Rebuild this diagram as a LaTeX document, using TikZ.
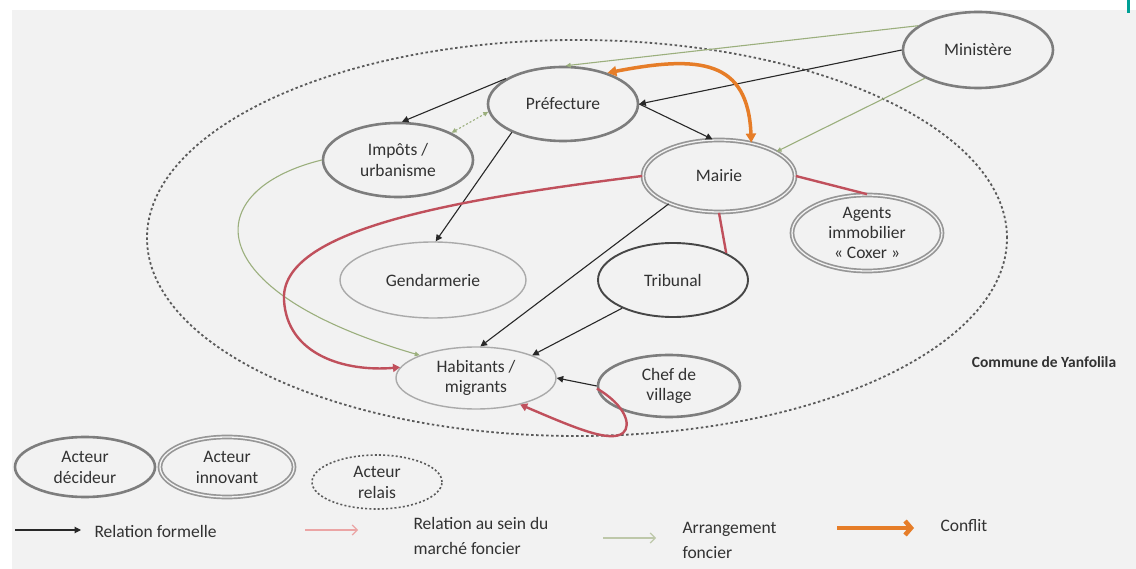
\documentclass[tikz,border=0pt]{standalone}
\usepackage{fontspec}
\setmainfont{Carlito}
\usetikzlibrary{shapes.geometric,arrows.meta}
\definecolor{bg}{RGB}{242,242,242}
\definecolor{txt}{RGB}{50,50,50}
\definecolor{decgray}{RGB}{125,125,125}
\definecolor{inngray}{RGB}{150,150,150}
\definecolor{dotgray}{RGB}{90,90,90}
\definecolor{thingray}{RGB}{170,170,170}
\definecolor{tribgray}{RGB}{70,70,70}
\definecolor{formalc}{RGB}{40,40,40}
\definecolor{greenarr}{RGB}{155,175,125}
\definecolor{greenleg}{RGB}{190,200,170}
\definecolor{redrel}{RGB}{192,80,92}
\definecolor{redleg}{RGB}{235,165,165}
\definecolor{orangec}{RGB}{230,125,40}
\definecolor{tealmark}{RGB}{0,160,150}
\begin{document}
\begin{tikzpicture}[x=1pt,y=-1pt,
  every node/.style={font=\fontsize{17.5}{21}\selectfont, text=txt, align=center},
  actor/.style={ellipse, inner sep=0pt, fill=bg},
  decid/.style={actor, draw=decgray, line width=2.6pt},
  inn/.style={actor, draw=inngray, double=bg, double distance=1.3pt, line width=1.7pt},
  relais/.style={actor, draw=dotgray, line width=1.6pt, dash pattern=on 2pt off 2.2pt},
  thinact/.style={actor, draw=thingray, line width=1.4pt},
  tribact/.style={actor, draw=tribgray, line width=1.9pt},
  formal/.style={draw=formalc, line width=1.1pt, -{Triangle[length=6.5pt,width=6.5pt]}},
  arrang/.style={draw=greenarr, line width=1.1pt, -{Triangle[length=5pt,width=4.5pt]}},
  market/.style={draw=redrel, line width=2.4pt},
  marketarr/.style={market, -{Triangle[length=7pt,width=8pt]}},
  conflict/.style={draw=orangec, line width=3.5pt, {Triangle[length=9pt,width=10pt]}-{Triangle[length=9pt,width=10pt]}},
  legtext/.style={anchor=west, align=left, font=\fontsize{17.5}{25}\selectfont}
]
\useasboundingbox (0,0) rectangle (1136,569);
\fill[white] (0,0) rectangle (1136,569);
\fill[bg] (12,10) rectangle (1136,569);
\fill[tealmark] (1127,0) rectangle (1130,13);

% commune boundary
\node[ellipse, draw=dotgray, line width=1.8pt, dash pattern=on 2.5pt off 2.5pt, minimum width=860pt, minimum height=396pt, inner sep=0pt] (commune) at (577,238) {};
\node[font=\bfseries\fontsize{15.5}{18}\selectfont] (communelbl) at (1044,362) {Commune de Yanfolila};

% actors
\node[decid, minimum width=150pt, minimum height=76pt] (min) at (978,50) {Ministère};
\node[decid, minimum width=150pt, minimum height=74pt] (pref) at (563,104) {Préfecture};
\node[inn, minimum width=152pt, minimum height=72pt] (mairie) at (719,176) {Mairie};
\node[decid, minimum width=150pt, minimum height=74pt] (impots) at (398,160) {Impôts /\\urbanisme};
\node[thinact, minimum width=186pt, minimum height=76pt] (gend) at (433,280) {Gendarmerie};
\node[tribact, minimum width=150pt, minimum height=74pt] (trib) at (673,280) {Tribunal};
\node[inn, minimum width=150pt, minimum height=76pt, font=\fontsize{17.5}{20}\selectfont] (agents) at (867,233) {Agents\\immobilier\\« Coxer »};
\node[thinact, minimum width=160pt, minimum height=62pt, font=\fontsize{17.5}{20}\selectfont] (hab) at (476,378) {Habitants /\\migrants};
\node[decid, minimum width=142pt, minimum height=62pt, font=\fontsize{17.5}{20}\selectfont] (chef) at (669,386) {Chef de\\village};

% formal relations
\draw[formal] (min.west) -- (pref.east);
\draw[formal] (pref.east) -- (mairie.100);
\draw[formal] (pref.156) -- (impots.84);
\draw[formal] (pref.209) -- (gend.86);
\draw[formal] (mairie.209) -- (hab.82);
\draw[formal] (trib.209) -- (hab.22);
\draw[formal] (chef.west) -- (hab.east);

% land arrangements
\draw[arrang] (min.158) -- (pref.86);
\draw[arrang] (min.208) -- (mairie.23);
\draw[arrang, dash pattern=on 2pt off 2pt, {Triangle[length=5pt,width=4.5pt]}-{Triangle[length=5pt,width=4.5pt]}] (impots.27) -- (pref.186);
\draw[arrang] (impots.west) .. controls (200,190) and (195,290) .. (hab.158);

% land market relations
\draw[marketarr] (mairie.west) .. controls (450,200) and (280,230) .. (284,300)
   .. controls (287,355) and (345,372) .. (hab.172);
\draw[market] (mairie.east) -- (agents.north);
\draw[market] (mairie.south) -- (trib.27);
\draw[marketarr] (chef.182) .. controls (625,405) and (632,425) .. (623,433)
   .. controls (610,443) and (575,428) .. (hab.-31);

% conflict
\draw[conflict] (pref.35) .. controls (700,55) and (748,60) .. (mairie.46);

% legend
\node[decid, minimum width=140pt, minimum height=60pt] (legdec) at (85,467) {Acteur\\décideur};
\node[inn, minimum width=134pt, minimum height=60pt] (leginn) at (227,467) {Acteur\\innovant};
\node[relais, minimum width=130pt, minimum height=54pt] (legrel) at (377,482) {Acteur\\relais};

\coordinate (f1) at (15,530); \coordinate (f2) at (81,530);
\draw[formal] (f1) -- (f2);
\node[legtext] (lf) at (91,531) {Relation formelle};

\coordinate (r1) at (305,530); \coordinate (r2) at (358,530);
\draw[draw=redleg, line width=1.2pt, -{Straight Barb[length=5pt,width=10pt]}] (r1) -- (r2);
\node[legtext] (lr) at (410,536) {Relation au sein du\\marché foncier};

\coordinate (g1) at (603,538); \coordinate (g2) at (656,538);
\draw[draw=greenleg, line width=1.2pt, -{Straight Barb[length=5pt,width=10pt]}] (g1) -- (g2);
\node[legtext] (lg) at (679,540) {Arrangement\\foncier};

\coordinate (o1) at (837,528); \coordinate (o2) at (914,528);
\draw[draw=orangec, line width=4.5pt, -{Straight Barb[length=6pt,width=14pt]}] (o1) -- (o2);
\node[legtext] (lo) at (937,526) {Conflit};
\end{tikzpicture}
\end{document}
